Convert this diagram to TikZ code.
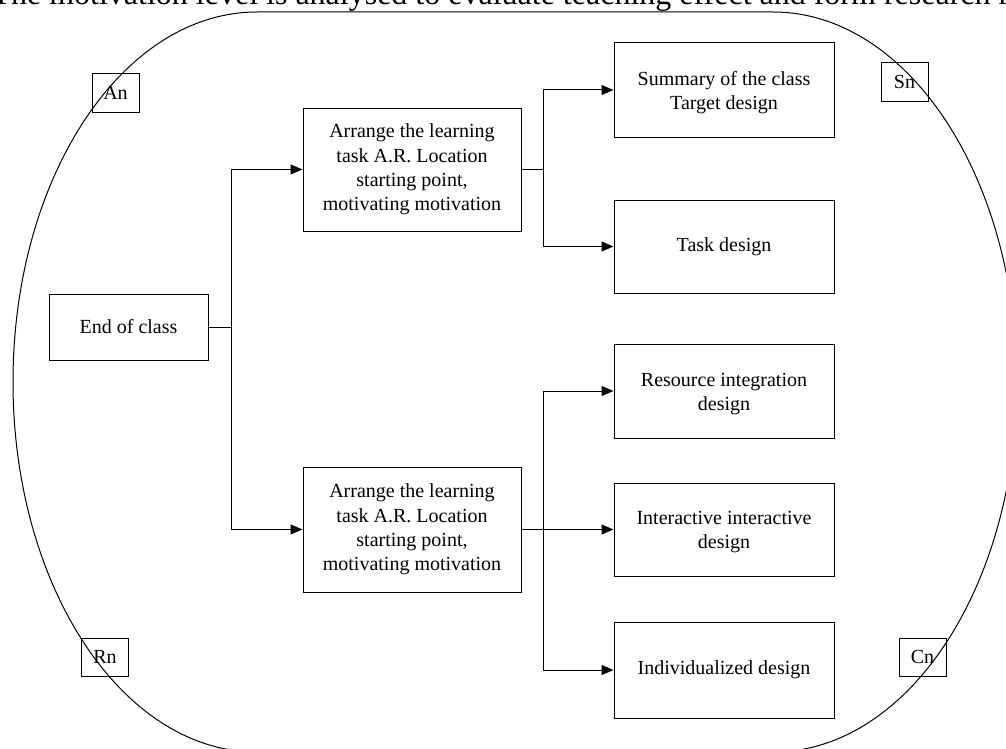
\documentclass[tikz,border=0pt]{standalone}
\usepackage{fontspec}
\setmainfont{Liberation Serif}
\usetikzlibrary{arrows.meta}
\begin{document}
\begin{tikzpicture}[x=0.75pt,y=-0.75pt,
  line width=0.75pt,
  txt/.style={font=\fontsize{15}{18.2}\selectfont},
  box/.style={draw, txt, inner sep=0pt, align=center},
  lab/.style={draw, txt, inner sep=0pt, minimum width=35.25pt, minimum height=28.5pt},
  arr/.style={-{Triangle[length=9pt,width=7.5pt]}}]
\useasboundingbox (0,0) rectangle (1006,749);
\clip (0,0) rectangle (1006,749);
% title (cut off by the top edge)
\node[anchor=base west, inner sep=0pt, font=\fontsize{24}{28}\selectfont] (title) at (-9,5)
  {The motivation level is analysed to evaluate teaching effect and form research r};
% big rounded outline
\draw (257,12) -- (773,12)
  .. controls (907.8,12) and (1017,177.6) .. (1017,382)
  .. controls (1017,586.4) and (907.8,752) .. (773,752)
  -- (257,752)
  .. controls (122.2,752) and (13,586.4) .. (13,382)
  .. controls (13,177.6) and (122.2,12) .. (257,12) -- cycle;
% boxes
\node[box, minimum width=119.25pt, minimum height=49.5pt] (endc) at (128.5,327) {End of class};
\node[box, minimum width=163.5pt, minimum height=92.25pt] (m1) at (412,169.5)
  {Arrange the learning\\task A.R. Location\\starting point,\\motivating motivation};
\node[box, minimum width=163.5pt, minimum height=93.75pt] (m2) at (412,529.5)
  {Arrange the learning\\task A.R. Location\\starting point,\\motivating motivation};
\node[box, minimum width=165pt, minimum height=70.5pt] (sum) at (724,90)
  {\rule{0pt}{14pt}Summary of the class\\Target design};
\node[box, minimum width=165pt, minimum height=69.75pt] (task) at (724,246.5) {Task design};
\node[box, minimum width=165pt, minimum height=70.5pt] (res) at (724,391)
  {\rule{0pt}{14pt}Resource integration\\design};
\node[box, minimum width=165pt, minimum height=69.75pt] (inter) at (724,529.5)
  {\rule{0pt}{14pt}Interactive interactive\\design};
\node[box, minimum width=165pt, minimum height=72pt] (indiv) at (724,670) {Individualized design};
% corner labels
\node[lab] (an) at (115.5,93) {An};
\node[lab] (sn) at (904.5,82) {Sn};
\node[lab] (rn) at (105,657) {Rn};
\node[lab] (cn) at (922.5,657) {Cn};
% junctions
\coordinate (j1) at (231,327);
\coordinate (j2) at (543,169.5);
\coordinate (j3) at (543,529.5);
% connectors
\draw (endc.east) -- (j1);
\draw[arr] (j1) |- (m1.west);
\draw[arr] (j1) |- (m2.west);
\draw (m1.east) -- (j2);
\draw[arr] (j2) |- (sum.west);
\draw[arr] (j2) |- (task.west);
\draw (m2.east) -- (j3);
\draw[arr] (j3) |- (res.west);
\draw[arr] (j3) -- (inter.west);
\draw[arr] (j3) |- (indiv.west);
\end{tikzpicture}
\end{document}
